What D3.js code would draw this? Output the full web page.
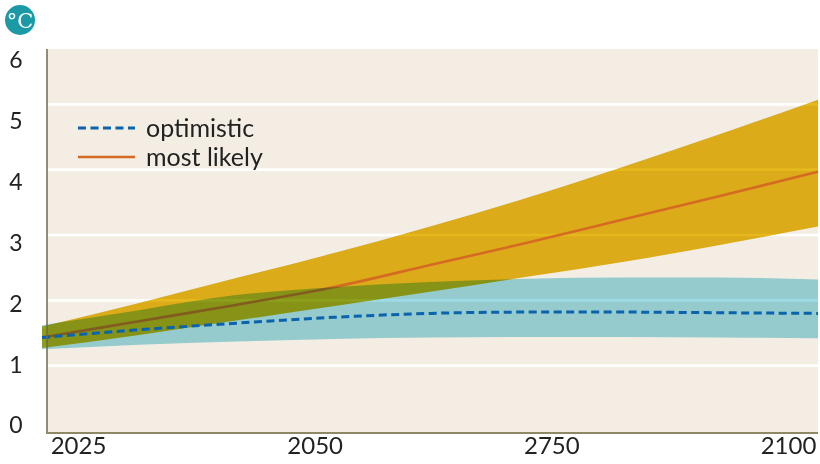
<!DOCTYPE html>
<html><head><meta charset="utf-8">
<script src="https://cdn.jsdelivr.net/npm/d3@7"></script>
<style>
html,body{margin:0;padding:0;background:#fff;}
svg{display:block;font-family:Lato, "Open Sans", sans-serif;}
</style></head>
<body><svg id="c" width="820" height="464"></svg>
<script>
const years = [2020, 2030, 2040, 2050, 2060, 2070, 2080, 2090, 2100];
const optimistic = [1.43, 1.55, 1.65, 1.74, 1.80, 1.82, 1.82, 1.81, 1.80];
const optimisticLow = [1.25, 1.32, 1.37, 1.41, 1.43, 1.44, 1.44, 1.43, 1.42];
const optimisticHigh = [1.62, 1.85, 2.08, 2.20, 2.28, 2.33, 2.35, 2.35, 2.32];
const likely = [1.43, 1.68, 1.93, 2.20, 2.54, 2.88, 3.24, 3.60, 3.97];
const likelyLow = [1.27, 1.47, 1.69, 1.91, 2.13, 2.36, 2.59, 2.85, 3.13];
const likelyHigh = [1.60, 1.96, 2.34, 2.72, 3.13, 3.57, 4.05, 4.55, 5.07];
const xTickLabels = ["2025", "2050", "2750", "2100"];
const yTickLabels = [0, 1, 2, 3, 4, 5, 6];
const gridValues = [1, 2, 3, 4, 5];
const seriesNames = ["optimistic", "most likely"];
const unitLabel = "°C";

const svg = d3.select("#c");
const plot = {left: 47, right: 818, top: 49, bottom: 433};

const x = d3.scaleLinear().domain([2020, 2100]).range([42, 818]);
const y = d3.scaleLinear().domain([0, 6]).range([431, 39]);
const xLab = d3.scalePoint().domain(xTickLabels).range([78, 788]);
const yLab = d3.scaleLinear().domain([0, 6]).range([425.5, 60.5]);

// background
svg.append("rect").attr("x", plot.left).attr("y", plot.top)
  .attr("width", plot.right - plot.left).attr("height", plot.bottom - plot.top)
  .attr("fill", "#f3ede3");

// gridlines
svg.append("g").selectAll("line").data(gridValues).join("line")
  .attr("x1", plot.left).attr("x2", plot.right)
  .attr("y1", d => y(d)).attr("y2", d => y(d))
  .attr("stroke", "#ffffff").attr("stroke-width", 2.6);

const idx = d3.range(years.length);
const area = (lo, hi) => d3.area().curve(d3.curveMonotoneX)
  .x(i => x(years[i])).y0(i => y(lo[i])).y1(i => y(hi[i]));
const line = vals => d3.line().curve(d3.curveMonotoneX)
  .x(i => x(years[i])).y(i => y(vals[i]));

const marks = svg.append("g");
marks.append("path").datum(idx).attr("d", area(likelyLow, likelyHigh))
  .attr("fill", "#e6b81c").style("mix-blend-mode", "multiply");
marks.append("path").datum(idx).attr("d", line(likely))
  .attr("fill", "none").attr("stroke", "#d56a22").attr("stroke-width", 2.6);
marks.append("path").datum(idx).attr("d", area(optimisticLow, optimisticHigh))
  .attr("fill", "#9cdbe6").style("mix-blend-mode", "multiply");
marks.append("path").datum(idx).attr("d", line(optimistic))
  .attr("fill", "none").attr("stroke", "#0b63ad").attr("stroke-width", 3)
  .attr("stroke-dasharray", "8,4.5");

// axes lines
svg.append("line").attr("x1", plot.left).attr("x2", plot.left)
  .attr("y1", plot.top).attr("y2", plot.bottom)
  .attr("stroke", "#6f6848").attr("stroke-width", 1.5);
svg.append("line").attr("x1", plot.left - 1).attr("x2", plot.right)
  .attr("y1", plot.bottom).attr("y2", plot.bottom)
  .attr("stroke", "#8e8768").attr("stroke-width", 2.2);

// y tick labels
const yAxis = d3.axisLeft(yLab).tickValues(yTickLabels).tickSize(0).tickPadding(0)
  .tickFormat(d3.format("d"));
const gy = svg.append("g").attr("transform", "translate(16,0)").call(yAxis);
gy.select(".domain").remove();
gy.selectAll("text").attr("text-anchor", "middle").attr("fill", "#222")
  .style("font-size", "23px").style("font-family", "Lato, sans-serif");

// x tick labels
const xAxis = d3.axisBottom(xLab).tickSize(0).tickPadding(0);
const gx = svg.append("g").attr("transform", "translate(0,437)").call(xAxis);
gx.select(".domain").remove();
gx.selectAll("text").attr("fill", "#222")
  .style("font-size", "24px").style("font-family", "Lato, sans-serif");

// unit icon
svg.append("circle").attr("cx", 20).attr("cy", 20).attr("r", 15).attr("fill", "#1b9aa6");
svg.append("text").attr("x", 20).attr("y", 28).attr("text-anchor", "middle")
  .attr("fill", "#fff").style("font-family", "'DejaVu Serif', 'Liberation Serif', serif")
  .style("font-size", "21px").text(unitLabel);

// legend
const leg = svg.append("g");
const legY = [128, 157];
leg.append("line").attr("x1", 78).attr("x2", 135).attr("y1", legY[0]).attr("y2", legY[0])
  .attr("stroke", "#0b63ad").attr("stroke-width", 3).attr("stroke-dasharray", "8,4.5");
leg.append("line").attr("x1", 78).attr("x2", 135).attr("y1", legY[1]).attr("y2", legY[1])
  .attr("stroke", "#d56a22").attr("stroke-width", 2.6);
leg.selectAll("text").data(seriesNames).join("text")
  .attr("x", 146).attr("y", (d, i) => legY[i]).attr("dy", "0.35em")
  .attr("fill", "#222").style("font-size", "25px").style("font-family", "Lato, sans-serif")
  .text(d => d);
</script>
</body></html>
